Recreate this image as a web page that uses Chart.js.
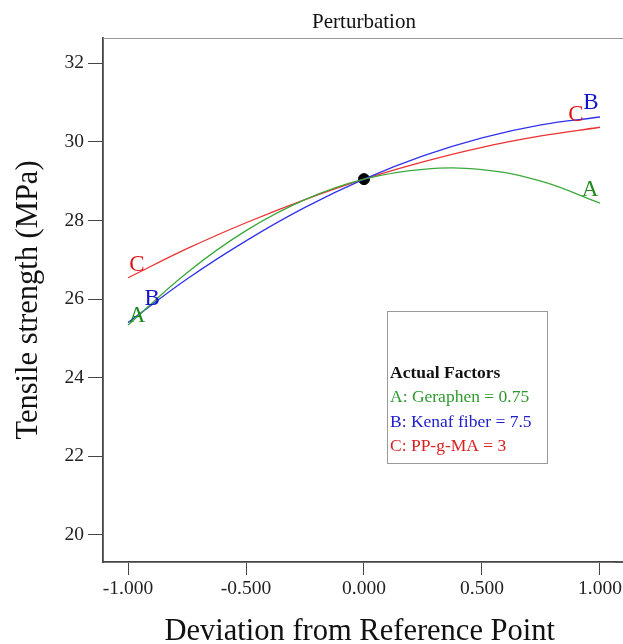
<!DOCTYPE html>
<html lang="en">
<head>
    <meta charset="UTF-8">
    <title>Perturbation</title>
    <style>
        html, body { margin: 0; padding: 0; background: #fff; overflow: hidden; }
        #wrap { width: 623px; height: 644px; position: relative; }
    </style>
</head>
<body>
    <div id="wrap"><canvas id="chart"></canvas></div>

    <script src="https://cdn.jsdelivr.net/npm/chart.js"></script>
    <script>
        // deviation from reference point (coded units)
        const deviation = [-1, -0.75, -0.5, -0.25, 0, 0.25, 0.5, 0.75, 1];
        // tensile strength (MPa)
        const factorA = [25.34, 26.67, 27.74, 28.53, 29.05, 29.30, 29.29, 29.00, 28.44];
        const factorB = [25.40, 26.51, 27.48, 28.33, 29.05, 29.64, 30.10, 30.43, 30.63];
        const factorC = [26.54, 27.28, 27.94, 28.53, 29.05, 29.49, 29.86, 30.15, 30.37];
        const refPoint = { x: 0, y: 29.05 };

        const xTickValues = [-1, -0.5, 0, 0.5, 1];
        const yTickValues = [20, 22, 24, 26, 28, 30, 32];

        // curve end letters, in data units
        const curveLabels = [
            { text: 'A', x: -0.962, y: 25.57, color: '#1c8c1c' },
            { text: 'B', x: -0.898, y: 26.00, color: '#1414c8' },
            { text: 'C', x: -0.962, y: 26.87, color: '#e01414' },
            { text: 'A', x: 0.958, y: 28.77, color: '#1c8c1c' },
            { text: 'B', x: 0.962, y: 30.98, color: '#1414c8' },
            { text: 'C', x: 0.898, y: 30.68, color: '#e01414' }
        ];

        const legendLines = [
            { text: 'Actual Factors', color: '#111', bold: true },
            { text: 'A: Geraphen = 0.75', color: '#2e9a2e' },
            { text: 'B: Kenaf fiber = 7.5', color: '#2020c8' },
            { text: 'C: PP-g-MA = 3', color: '#d82020' }
        ];

        const serif = "'Liberation Serif', 'Times New Roman', serif";

        function toPoints(values) {
            return deviation.map((d, i) => ({ x: d, y: values[i] }));
        }

        const extras = {
            id: 'extras',
            beforeDatasetsDraw(chart) {
                const { ctx, chartArea } = chart;
                ctx.save();
                ctx.strokeStyle = '#999';
                ctx.lineWidth = 1.2;
                ctx.beginPath();
                ctx.moveTo(chartArea.left, chartArea.top + 0.5);
                ctx.lineTo(chart.width, chartArea.top + 0.5);
                ctx.stroke();
                // bottom axis runs on to the edge
                ctx.strokeStyle = '#444';
                ctx.lineWidth = 1.8;
                ctx.beginPath();
                ctx.moveTo(chartArea.right - 1, chartArea.bottom);
                ctx.lineTo(chart.width, chartArea.bottom);
                ctx.stroke();
                // title centred over the reference point
                ctx.font = '21px ' + serif;
                ctx.fillStyle = '#111';
                ctx.textAlign = 'center';
                ctx.textBaseline = 'middle';
                ctx.fillText('Perturbation', chart.scales.x.getPixelForValue(0), 22);
                ctx.restore();
            },
            afterDatasetsDraw(chart) {
                const { ctx, scales } = chart;
                const xs = scales.x, ys = scales.y;
                ctx.save();
                ctx.font = '23px ' + serif;
                ctx.textAlign = 'center';
                ctx.textBaseline = 'middle';
                curveLabels.forEach(l => {
                    ctx.fillStyle = l.color;
                    ctx.fillText(l.text, xs.getPixelForValue(l.x), ys.getPixelForValue(l.y));
                });

                // factor box
                const bx = 387, by = 311, bw = 160, bh = 152;
                ctx.fillStyle = '#fff';
                ctx.fillRect(bx, by, bw, bh);
                ctx.strokeStyle = '#999';
                ctx.lineWidth = 1;
                ctx.strokeRect(bx + 0.5, by + 0.5, bw, bh);
                ctx.textAlign = 'left';
                legendLines.forEach((l, i) => {
                    ctx.font = (l.bold ? 'bold ' : '') + '17.5px ' + serif;
                    ctx.fillStyle = l.color;
                    ctx.fillText(l.text, bx + 3, by + 62 + i * 24.5);
                });
                ctx.restore();
            }
        };

        new Chart(document.getElementById('chart'), {
            type: 'scatter',
            data: {
                datasets: [
                    { label: 'A', data: toPoints(factorA), borderColor: 'rgb(60,168,60)', showLine: true, pointRadius: 0, borderWidth: 1.3, tension: 0.4 },
                    { label: 'B', data: toPoints(factorB), borderColor: 'rgb(50,50,235)', showLine: true, pointRadius: 0, borderWidth: 1.3, tension: 0.4 },
                    { label: 'C', data: toPoints(factorC), borderColor: 'rgb(235,50,50)', showLine: true, pointRadius: 0, borderWidth: 1.3, tension: 0.4 },
                    { label: 'ref', data: [refPoint], backgroundColor: '#000', borderColor: '#000', pointRadius: 5.5 }
                ]
            },
            options: {
                responsive: true,
                maintainAspectRatio: false,
                animation: false,
                layout: { padding: { top: 38, left: 0, right: 0, bottom: 0 } },
                plugins: {
                    legend: { display: false },
                    tooltip: { enabled: false },
                    title: { display: false }
                },
                scales: {
                    x: {
                        type: 'linear',
                        min: -1.106,
                        max: 1.070,
                        afterBuildTicks: s => { s.ticks = xTickValues.map(v => ({ value: v })); },
                        afterFit: s => { s.height = 82; s.paddingLeft = 0; s.paddingRight = 0; },
                        border: { display: true, color: '#444', width: 1.8 },
                        grid: { drawOnChartArea: false, drawTicks: true, tickLength: 13, color: '#444', lineWidth: 1 },
                        ticks: {
                            color: '#222',
                            font: { family: serif, size: 19.5 },
                            padding: 2,
                            maxRotation: 0,
                            callback: v => v.toFixed(3)
                        },
                        title: {
                            display: true,
                            text: 'Deviation from Reference Point',
                            color: '#111',
                            font: { family: serif, size: 30.5, lineHeight: 0.8 },
                            padding: { top: 0, bottom: 0 }
                        }
                    },
                    y: {
                        type: 'linear',
                        min: 19.31,
                        max: 32.64,
                        afterBuildTicks: s => { s.ticks = yTickValues.map(v => ({ value: v })); },
                        afterFit: s => { s.width = 103; s.paddingTop = 0; s.paddingBottom = 0; },
                        border: { display: true, color: '#444', width: 1.8 },
                        grid: { drawOnChartArea: false, drawTicks: true, tickLength: 15, color: '#444', lineWidth: 1 },
                        ticks: {
                            color: '#222',
                            font: { family: serif, size: 19.5 },
                            padding: 4
                        },
                        title: {
                            display: true,
                            text: 'Tensile strength (MPa)',
                            color: '#111',
                            font: { family: serif, size: 30.5, lineHeight: 1.2 },
                            padding: { top: 11, bottom: 0 }
                        }
                    }
                }
            },
            plugins: [extras]
        });
    </script>
</body>
</html>
